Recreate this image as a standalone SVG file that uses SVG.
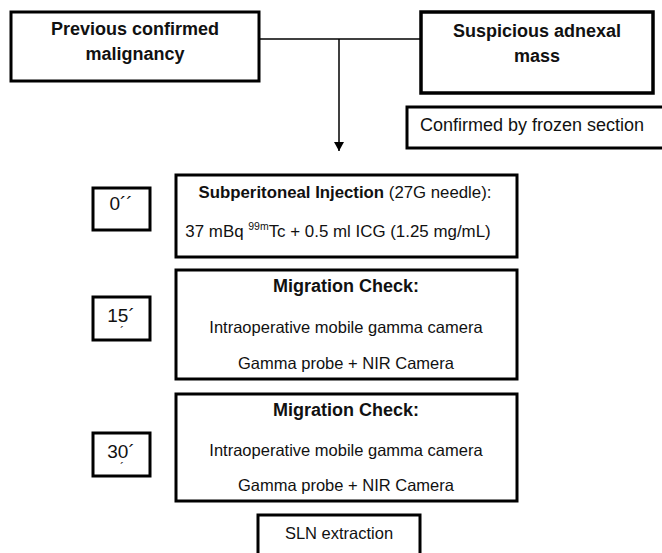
<svg xmlns="http://www.w3.org/2000/svg" width="662" height="553" viewBox="0 0 662 553">
<defs>
<marker id="arr" markerWidth="10" markerHeight="10" refX="9" refY="5" orient="auto" markerUnits="userSpaceOnUse">
<path d="M0,0 L9,5 L0,10 Z" fill="#000"/>
</marker>
<style>
.box{fill:#fff;stroke:#000;stroke-width:3}
.thick{stroke-width:3.5}
.t{font-family:"Liberation Sans",Arial,sans-serif;fill:#111;text-anchor:middle}
.b{font-weight:bold}
.s18{font-size:18px}
.s165{font-size:16.5px}
.conn{stroke:#000;stroke-width:1.5;fill:none}
</style>
</defs>
<rect width="662" height="553" fill="#fff"/>
<g id="connectors">
<line class="conn" x1="259" y1="39" x2="421" y2="39"/>
<line class="conn" x1="339" y1="39" x2="339" y2="151" marker-end="url(#arr)"/>
</g>
<g id="previous">
<rect class="box" x="11" y="12" width="248" height="69"/>
<text class="t b s18" x="135" y="35">Previous confirmed</text>
<text class="t b s18" x="135" y="60">malignancy</text>
</g>
<g id="suspicious">
<rect class="box thick" x="421" y="12" width="232" height="81"/>
<text class="t b s18" x="537" y="37">Suspicious adnexal</text>
<text class="t b s18" x="537" y="62">mass</text>
</g>
<g id="frozen">
<rect class="box" x="407" y="107" width="262" height="41"/>
<text class="t s18" x="532" y="131">Confirmed by frozen section</text>
</g>
<g id="t0">
<rect class="box" x="93" y="188" width="57" height="42"/>
<text class="t" style="font-size:19px" x="121" y="210">0´´</text>
</g>
<g id="injection">
<rect class="box" x="176" y="175" width="341" height="82"/>
<text class="t" style="font-size:16.8px" x="345" y="198"><tspan font-weight="bold">Subperitoneal Injection</tspan> (27G needle):</text>
<text class="t" style="font-size:16.9px" x="338" y="237">37 mBq <tspan font-size="10.5px" dy="-7">99m</tspan><tspan dy="7">Tc + 0.5 ml ICG (1.25 mg/mL)</tspan></text>
</g>
<g id="t15">
<rect class="box" x="93" y="297" width="57" height="43"/>
<text class="t" style="font-size:19px" x="121" y="322">15´</text>
<text class="t" style="font-size:12px" x="122" y="336">´</text>
</g>
<g id="check15">
<rect class="box" x="176" y="270" width="341" height="109"/>
<text class="t b s18" x="346" y="292">Migration Check:</text>
<text class="t s165" x="346" y="333">Intraoperative mobile gamma camera</text>
<text class="t s165" x="346" y="369">Gamma probe + NIR Camera</text>
</g>
<g id="t30">
<rect class="box" x="93" y="433" width="57" height="43"/>
<text class="t" style="font-size:19px" x="121" y="458">30´</text>
<text class="t" style="font-size:12px" x="122" y="472">´</text>
</g>
<g id="check30">
<rect class="box" x="176" y="394" width="341" height="107"/>
<text class="t b s18" x="346" y="416">Migration Check:</text>
<text class="t s165" x="346" y="456">Intraoperative mobile gamma camera</text>
<text class="t s165" x="346" y="491">Gamma probe + NIR Camera</text>
</g>
<g id="sln">
<rect class="box" x="258" y="515" width="162" height="50"/>
<text class="t s165" x="339" y="539">SLN extraction</text>
</g>
</svg>
